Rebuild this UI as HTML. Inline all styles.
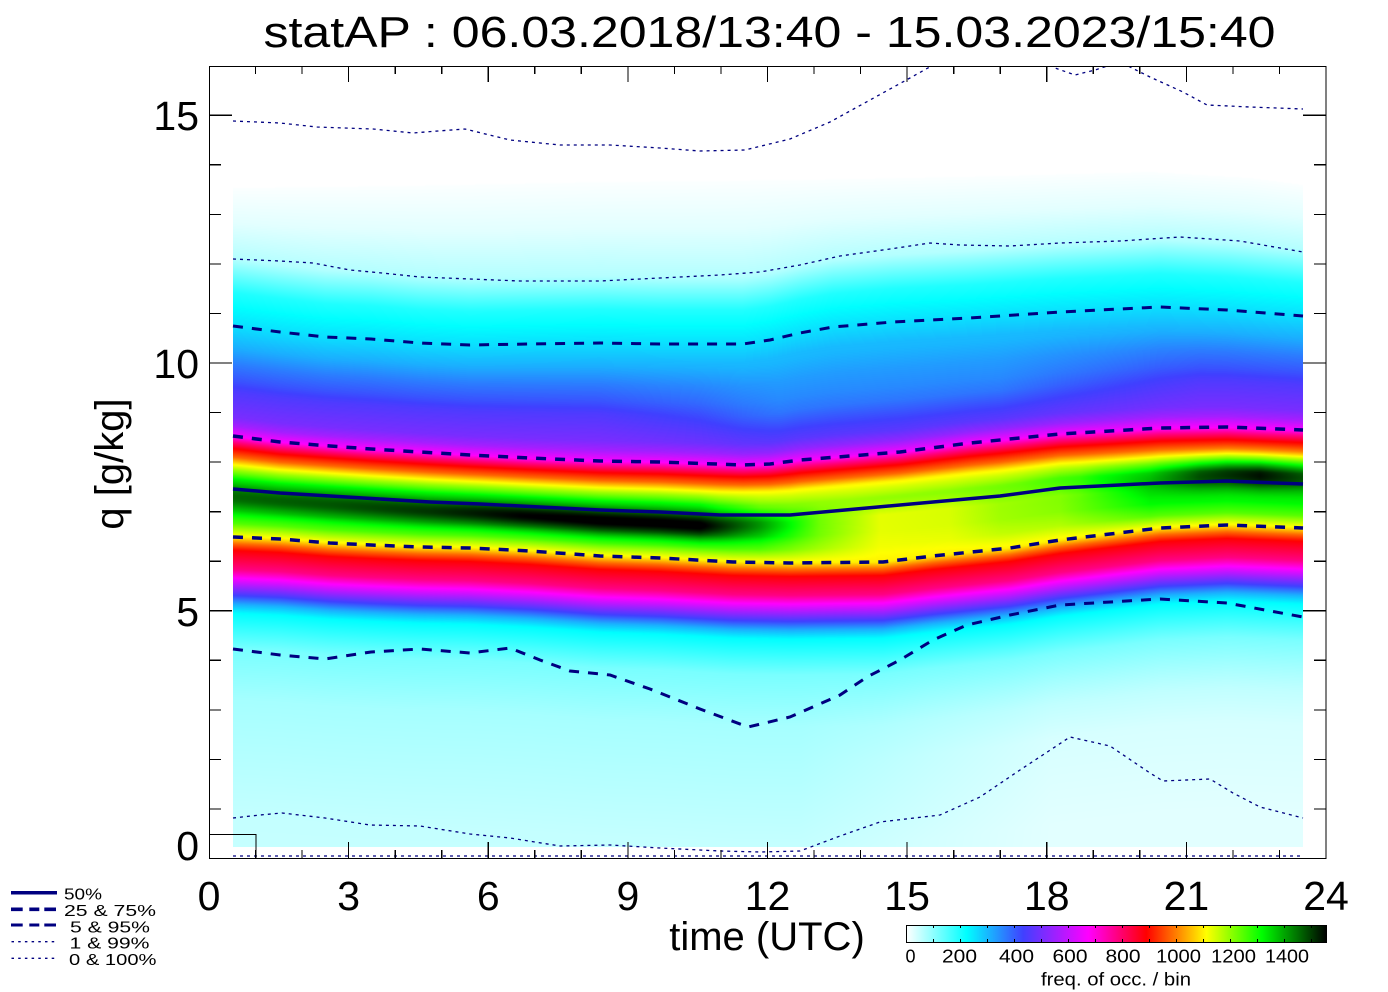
<!DOCTYPE html>
<html><head><meta charset="utf-8">
<style>
html,body{margin:0;padding:0;background:#fff;width:1388px;height:992px;overflow:hidden;}
#wrap{position:relative;width:1388px;height:992px;font-family:"Liberation Sans",Arial,Helvetica,sans-serif;}
#fb{position:absolute;left:233px;top:188px;width:1070px;height:659px;
background:linear-gradient(to bottom,#f4ffff 0%,#b8ffff 10.8%,#30f0ff 16.1%,#10d0ff 20.9%,#3080ff 26.7%,#6040ff 30.8%,#a020f0 36.1%,#ff00ff 38.5%,#ff0000 40.4%,#ffff00 42.5%,#00ff00 44.6%,#006000 48.4%,#00ff00 51.4%,#ffff00 53.4%,#ff0000 55.3%,#ff00ff 58.6%,#4050ff 61.8%,#00f0ff 64.8%,#80ffff 70.1%,#b0ffff 80.7%,#c8ffff 100%);}
#hm{position:absolute;left:233px;top:160px;width:1070px;height:687px;}
svg{position:absolute;left:0;top:0;}
text{font-family:"Liberation Sans",Arial,Helvetica,sans-serif;fill:#000;}
</style></head>
<body><div id="wrap">
<div id="fb"></div>
<canvas id="hm" width="1070" height="687"></canvas>
<svg width="1388" height="992" viewBox="0 0 1388 992" xmlns="http://www.w3.org/2000/svg">
<defs>
<clipPath id="pc"><rect x="209" y="66" width="1117" height="792"/></clipPath>
<linearGradient id="cb" x1="0" y1="0" x2="1" y2="0">
<stop offset="0" stop-color="#ffffff"/>
<stop offset="0.143" stop-color="#00ffff"/>
<stop offset="0.278" stop-color="#4040ff"/>
<stop offset="0.433" stop-color="#ff00ff"/>
<stop offset="0.571" stop-color="#ff0000"/>
<stop offset="0.714" stop-color="#ffff00"/>
<stop offset="0.845" stop-color="#00ff00"/>
<stop offset="1" stop-color="#000000"/>
</linearGradient>
</defs>

<g clip-path="url(#pc)" fill="none" stroke="#000080">
<polyline stroke-width="1.3" stroke-dasharray="3 4" points="233,121 280,123 317,127 373,129 413,133 438,131 465,129 510,140 560,145 610,145 660,148 700,151 745,150 790,139 830,122 870,100 910,78 935,64 960,52 1000,45 1040,56 1055,68 1075,75 1095,70 1120,62 1140,72 1150,77 1183,92 1207,105 1250,107 1303,109"/>
<polyline stroke-width="1.3" stroke-dasharray="3 4" points="233,259 280,261 313,263 350,270 382,273 420,277 470,279 520,281 600,281 660,278 720,275 760,272 800,265 840,256 890,249 930,243 960,245 1010,246 1060,243 1120,241 1180,237 1240,241 1303,252"/>
<polyline stroke-width="3" stroke-dasharray="10 9" points="233,326 280,332 325,337 371,339 420,343 470,345 530,344 600,343 660,344 743,344 770,340 800,333 833,327 893,322 970,318 1060,312 1160,307 1227,310 1303,316"/>
<polyline stroke-width="3.5" stroke-dasharray="10 9" points="233,436 280,442 330,446 371,449 420,452 470,455 530,458 600,461 660,462 743,465 770,464 800,460 900,452 970,443 1060,434 1160,428 1227,427 1303,430"/>
<polyline stroke-width="3.5" points="233,489 280,493 330,496 380,499 430,502 480,504 540,507 600,510 660,512 720,515 790,515 867,508 933,502 1000,496 1060,488 1160,483 1227,481 1303,484"/>
<polyline stroke-width="3.5" stroke-dasharray="10 9" points="233,537 280,539 330,543 371,545 420,547 470,548 530,551 600,556 660,558 733,562 790,563 883,562 933,556 1010,548 1060,540 1160,528 1227,525 1303,528"/>
<polyline stroke-width="3" stroke-dasharray="10 9" points="233,649 280,655 325,659 371,652 420,649 470,653 510,648 540,660 570,671 610,675 650,689 700,709 748,727 790,717 840,695 867,677 900,660 933,640 967,625 1010,615 1060,605 1160,599 1227,603 1303,617"/>
<polyline stroke-width="1.3" stroke-dasharray="3 4" points="233,818 260,815 282,813 325,818 370,825 420,826 470,834 510,838 560,846 610,845 660,848 720,851 760,852 800,851 840,836 880,822 940,815 980,797 1020,770 1070,737 1110,746 1150,773 1163,781 1210,779 1233,793 1260,807 1303,818"/>
<polyline stroke-width="1.3" stroke-dasharray="3 4" points="233,856 1303,856"/>
</g>

<g fill="none" stroke="#000" stroke-width="1.2" shape-rendering="crispEdges">
<rect x="209.5" y="66.5" width="1116.5" height="792"/>
<rect x="209.5" y="834.5" width="46.5" height="24"/>
<path d="M348.6 858V842M488.3 858V842M627.9 858V842M767.5 858V842M907.1 858V842M1046.8 858V842M1186.4 858V842
M255.5 858V850M302.1 858V850M395.2 858V850M441.7 858V850M534.8 858V850M581.3 858V850M674.4 858V850M721 858V850M814 858V850M860.6 858V850M953.7 858V850M1000.2 858V850M1093.3 858V850M1139.8 858V850M1232.9 858V850M1279.5 858V850
M348.6 66V82M488.3 66V82M627.9 66V82M767.5 66V82M907.1 66V82M1046.8 66V82M1186.4 66V82
M255.5 66V74M302.1 66V74M395.2 66V74M441.7 66V74M534.8 66V74M581.3 66V74M674.4 66V74M721 66V74M814 66V74M860.6 66V74M953.7 66V74M1000.2 66V74M1093.3 66V74M1139.8 66V74M1232.9 66V74M1279.5 66V74
M209 610.8H232M209 363H232M209 115.3H232
M209 809H221M209 759.4H221M209 709.9H221M209 660.3H221M209 561.2H221M209 511.7H221M209 462.1H221M209 412.6H221M209 313.5H221M209 263.9H221M209 214.4H221M209 164.8H221
M1326 610.8H1303M1326 363H1303M1326 115.3H1303
M1326 809H1314M1326 759.4H1314M1326 709.9H1314M1326 660.3H1314M1326 561.2H1314M1326 511.7H1314M1326 462.1H1314M1326 412.6H1314M1326 313.5H1314M1326 263.9H1314M1326 214.4H1314M1326 164.8H1314"/>
</g>

<text x="263.5" y="47" font-size="44" textLength="1012" lengthAdjust="spacingAndGlyphs">statAP : 06.03.2018/13:40 - 15.03.2023/15:40</text>

<g font-size="41" text-anchor="end">
<text x="199" y="130">15</text>
<text x="199" y="378">10</text>
<text x="199" y="626">5</text>
<text x="199" y="860">0</text>
</g>
<g font-size="41" text-anchor="middle">
<text x="209" y="910">0</text>
<text x="348.6" y="910">3</text>
<text x="488.3" y="910">6</text>
<text x="627.9" y="910">9</text>
<text x="767.5" y="910">12</text>
<text x="907.1" y="910">15</text>
<text x="1046.8" y="910">18</text>
<text x="1186.4" y="910">21</text>
<text x="1326" y="910">24</text>
</g>
<text x="767" y="950" font-size="40" text-anchor="middle">time (UTC)</text>
<text transform="translate(123,464) rotate(-90)" font-size="40" text-anchor="middle">q [g/kg]</text>

<g stroke="#000080" fill="none">
<path d="M11 892.7H57" stroke-width="3.5"/>
<path d="M11 909.3H22.7M29.3 909.3H39.3M44.3 909.3H56" stroke-width="3.6"/>
<path d="M11 925H22.7M29.3 925H39.3M44.3 925H56" stroke-width="3"/>
<path d="M11.5 941.7H57" stroke-width="1.3" stroke-dasharray="2.5 4.2"/>
<path d="M11.5 958.3H57" stroke-width="1.3" stroke-dasharray="2.5 4.2"/>
</g>
<g font-size="16" style="white-space:pre">
<text x="64" y="899.5" textLength="38" lengthAdjust="spacingAndGlyphs">50%</text>
<text x="64" y="916.2" textLength="92" lengthAdjust="spacingAndGlyphs">25 &amp;  75%</text>
<text x="70" y="932.5" textLength="80" lengthAdjust="spacingAndGlyphs">5 &amp;  95%</text>
<text x="69.5" y="948.7" textLength="80" lengthAdjust="spacingAndGlyphs">1 &amp;  99%</text>
<text x="69" y="965.2" textLength="87.5" lengthAdjust="spacingAndGlyphs">0 &amp; 100%</text>
</g>

<rect x="906.5" y="925.5" width="420" height="17" fill="url(#cb)" stroke="#000" stroke-width="1.2" shape-rendering="crispEdges"/>
<path stroke="#000" stroke-width="1" fill="none" shape-rendering="crispEdges" d="M933.7 925v3M960.7 925v3M987.7 925v3M1014.7 925v3M1041.7 925v3M1068.7 925v3M1095.7 925v3M1122.7 925v3M1149.7 925v3M1176.7 925v3M1203.7 925v3M1230.7 925v3M1257.7 925v3M1284.7 925v3M1311.7 925v3
M933.7 942v-3M960.7 942v-3M987.7 942v-3M1014.7 942v-3M1041.7 942v-3M1068.7 942v-3M1095.7 942v-3M1122.7 942v-3M1149.7 942v-3M1176.7 942v-3M1203.7 942v-3M1230.7 942v-3M1257.7 942v-3M1284.7 942v-3M1311.7 942v-3"/>
<g font-size="18" text-anchor="middle">
<text x="910.5" y="962.5">0</text>
<text x="959.5" y="962.5" textLength="35" lengthAdjust="spacingAndGlyphs">200</text>
<text x="1016.5" y="962.5" textLength="35" lengthAdjust="spacingAndGlyphs">400</text>
<text x="1070" y="962.5" textLength="35" lengthAdjust="spacingAndGlyphs">600</text>
<text x="1123" y="962.5" textLength="35" lengthAdjust="spacingAndGlyphs">800</text>
<text x="1178.5" y="962.5" textLength="45" lengthAdjust="spacingAndGlyphs">1000</text>
<text x="1233.5" y="962.5" textLength="45" lengthAdjust="spacingAndGlyphs">1200</text>
<text x="1287" y="962.5" textLength="44" lengthAdjust="spacingAndGlyphs">1400</text>
<text x="1116" y="985.5" textLength="150" lengthAdjust="spacingAndGlyphs">freq. of occ. / bin</text>
</g>
</svg>
</div>
<script>
(function(){
var c=document.getElementById('hm');if(!c.getContext)return;
var ctx=c.getContext('2d');
var W=1070,H=687,X0=233,Y0=160;
var img=ctx.createImageData(W,H),D=img.data;
function L(a,x){if(x<=a[0][0])return a[0][1];for(var i=1;i<a.length;i++){if(x<=a[i][0]){var t=(x-a[i-1][0])/(a[i][0]-a[i-1][0]);return a[i-1][1]+t*(a[i][1]-a[i-1][1]);}}return a[a.length-1][1];}
var P50=[[233,489],[280,493],[330,496],[380,499],[430,502],[480,504],[540,507],[600,510],[660,512],[720,515],[790,515],[867,508],[933,502],[1000,496],[1060,488],[1160,483],[1227,481],[1303,484]];
var P75=[[233,436],[280,442],[330,446],[371,449],[420,452],[470,455],[530,458],[600,461],[660,462],[743,465],[770,464],[800,460],[900,452],[970,443],[1060,434],[1160,428],[1227,427],[1303,430]];
var P25=[[233,537],[280,539],[330,543],[371,545],[420,547],[470,548],[530,551],[600,556],[660,558],[733,562],[790,563],[883,562],[933,556],[1010,548],[1060,540],[1160,528],[1227,525],[1303,528]];
var P95=[[233,326],[280,332],[325,337],[371,339],[420,343],[470,345],[530,344],[600,343],[660,344],[743,344],[770,340],[800,333],[833,327],[893,322],[970,318],[1060,312],[1160,307],[1227,310],[1303,316]];
var TOP=[[233,188],[400,186],[600,182],[800,180],[1000,176],[1150,172],[1250,178],[1303,185]];
var PROF=[[-4,0.002],[-3.5,0.016],[-3,0.042],[-2.5,0.125],[-2,0.165],[-1.8,0.2],[-1.65,0.235],[-1.5,0.265],[-1.4,0.29],[-1.17,0.325],[-1.09,0.36],[-1,0.43],[-0.89,0.5],[-0.77,0.567],[-0.6,0.63],[-0.47,0.706],[-0.36,0.76],[-0.19,0.825],[0,0.845],[0.25,0.85],[0.45,0.845],[0.72,0.8],[1,0.706],[1.06,0.63],[1.125,0.567],[1.29,0.5],[1.37,0.43],[1.44,0.36],[1.52,0.28],[1.6,0.2],[1.68,0.143],[1.88,0.1],[2,0.075],[2.3,0.05],[3,0.033],[4,0.03],[6,0.03]];
var KA=[[233,1],[700,1],[760,0.6],[850,0.5],[950,0.55],[1020,0.7],[1100,1],[1303,1]];
var KB=[[233,1],[760,1],[830,0.5],[880,0.15],[950,0.2],[1000,0.4],[1060,0.5],[1150,1],[1303,1]];
var AA=[[233,0.09],[330,0.1],[430,0.12],[520,0.15],[600,0.16],[700,0.16],[760,0.06],[820,0],[1080,0],[1150,0.05],[1200,0.12],[1260,0.16],[1303,0.12]];
var CC=[[233,0.15],[700,0.25],[900,0.1],[1100,-0.1],[1250,-0.15],[1303,-0.15]];
var MU=[[233,0],[600,0],[700,0.02],[780,0.05],[1000,0.05],[1120,0.02],[1200,0],[1303,0]];
var FL=[[233,1],[800,1],[950,0.7],[1050,0.5],[1303,0.5]];
var CM=[[0,255,255,255],[0.143,0,255,255],[0.278,64,64,255],[0.433,255,0,255],[0.571,255,0,0],[0.714,255,255,0],[0.845,0,255,0],[1,0,0,0]];
function cm(v){if(v<0)v=0;if(v>1)v=1;for(var i=1;i<CM.length;i++){if(v<=CM[i][0]){var a=CM[i-1],b=CM[i],t=(v-a[0])/(b[0]-a[0]);return[a[1]+t*(b[1]-a[1]),a[2]+t*(b[2]-a[2]),a[3]+t*(b[3]-a[3])];}}return[0,0,0];}
for(var i=0;i<W;i++){
 var x=X0+i+0.5;
 var a95=L(P95,x),a75=L(P75,x),a50=L(P50,x),a25=L(P25,x),q5=a25+112,a99=a95-67,top=L(TOP,x);
 var kA=L(KA,x),kB=L(KB,x),A=L(AA,x),cc=L(CC,x),mu=L(MU,x),fl=L(FL,x);
 for(var j=0;j<H;j++){
  var y=Y0+j+0.5;if(y<top)continue;
  var u;
  if(y<a99)u=-3-(a99-y)/(a99-top);
  else if(y<a95)u=-3+(y-a99)/(a95-a99);
  else if(y<a75)u=-2+(y-a95)/(a75-a95);
  else if(y<a50)u=-1+(y-a75)/(a50-a75);
  else if(y<a25)u=(y-a50)/(a25-a50);
  else if(y<q5)u=1+(y-a25)/(q5-a25);
  else u=2+(y-q5)/170;
  var v=L(PROF,u);
  if(v>0.706){var s=(u+0.15)/0.3;if(s<0)s=0;if(s>1)s=1;var k=kA*(1-s)+kB*s;v=0.706+(v-0.706)*k;}
  var g=(u-cc)/0.3;v+=A*Math.exp(-g*g);
  if(u>-2&&u<-1){var w=1-Math.abs(u+1.4)/0.45;if(w>0)v-=mu*w;}
  if(u>2){var w2=(u-2)/0.5;if(w2>1)w2=1;v*=1-(1-fl)*w2;}
  var col=cm(v),p=(j*W+i)*4;
  D[p]=col[0];D[p+1]=col[1];D[p+2]=col[2];D[p+3]=255;
 }
}
ctx.putImageData(img,0,0);
document.getElementById('fb').style.display='none';
})();
</script>
</body></html>
